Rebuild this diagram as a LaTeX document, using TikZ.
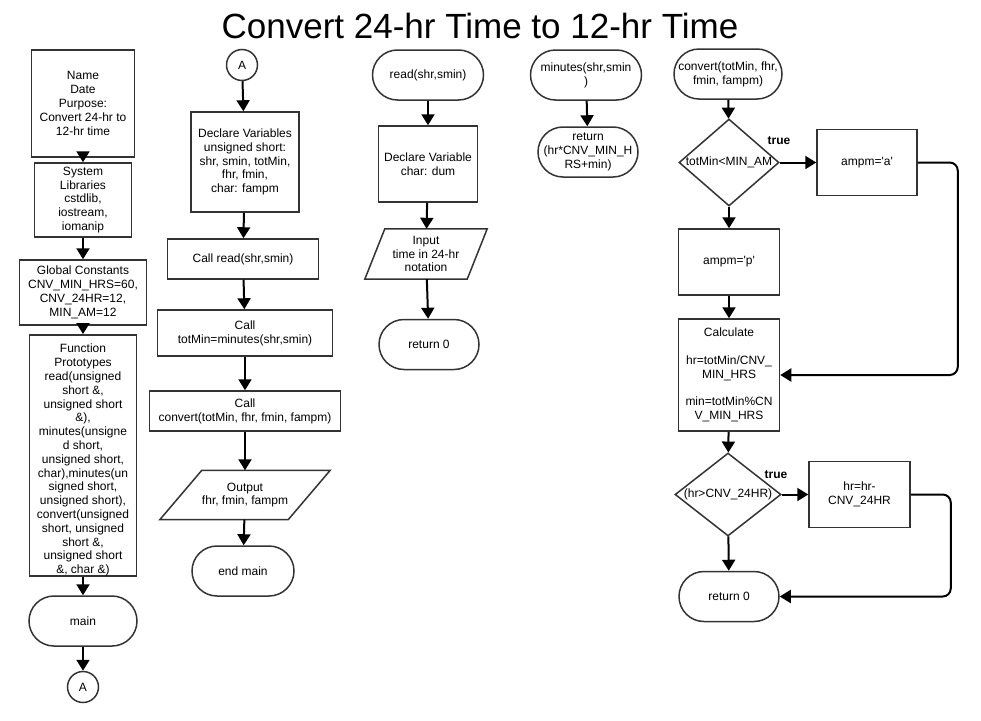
\documentclass[tikz,border=0pt]{standalone}
\usepackage{fontspec}
\setmainfont{Liberation Sans}
\usetikzlibrary{shapes.geometric, arrows.meta, positioning}

\begin{document}
\begin{tikzpicture}[x=1pt, y=-1pt,
  font=\fontsize{12}{13.8}\selectfont,
  every node/.style={align=center, inner sep=0pt},
  box/.style={draw=black!80, line width=1.5pt, fill=white},
  term/.style={draw=black!80, line width=1.5pt, fill=white, rounded corners=25pt, minimum height=50},
  dec/.style={draw=black!80, line width=1.5pt, fill=white, diamond, minimum width=100, minimum height=87},
  io/.style={draw=black!80, line width=1.5pt, line join=miter},
  conn/.style={draw=black!80, line width=1.5pt, circle, minimum size=31},
  arr/.style={-{Triangle[length=11pt, width=13pt]}, line width=2pt},
  truelbl/.style={font=\fontsize{12}{14}\selectfont\bfseries}
]
\useasboundingbox (0,0) rectangle (981,720);

\node (title) at (480,26) {\fontsize{35}{40}\selectfont Convert 24-hr Time to 12-hr Time};

\node[box, minimum width=103, minimum height=107] (name) at (83,103.5) {Name\\Date\\Purpose:\\Convert 24-hr to\\12-hr time};
\node[box, minimum width=97, minimum height=74] (syslib) at (83,200) {System\\Libraries\\cstdlib,\\iostream,\\iomanip};
\node[box, minimum width=127, minimum height=65] (consts) at (83,292.5) {Global Constants\\CNV\_MIN\_HRS=60,\\CNV\_24HR=12,\\MIN\_AM=12};
\node[box, minimum width=107, minimum height=231] (protos) at (83,455.5) {\vphantom{A}\\[-4pt]Function\\Prototypes\\read(unsigned\\short \&,\\unsigned short\\\&),\\minutes(unsigne\\d short,\\unsigned short,\\char),minutes(un\\signed short,\\unsigned short),\\convert(unsigned\\short, unsigned\\short \&,\\unsigned short\\\&, char \&)};
\node[term, minimum width=108] (mainst) at (83,621) {main};
\node[conn] (conA) at (83,687) {A};

\node[conn] (conA2) at (242,65) {A};
\node[box, minimum width=108, minimum height=100] (decl) at (245,162) {Declare Variables\\unsigned short:\\shr, smin, totMin,\\fhr, fmin,\\char: fampm};
\node[box, minimum width=151, minimum height=40] (callread) at (243,259) {Call read(shr,smin)};
\node[box, minimum width=175, minimum height=46] (callmin) at (245,333) {Call\\totMin=minutes(shr,smin)};
\node[box, minimum width=191, minimum height=40] (callconv) at (245,411) {Call\\convert(totMin, fhr, fmin, fampm)};
\node[minimum width=128, minimum height=49] (outp) at (245,495) {Output\\fhr, fmin, fampm};
\draw[io] ([xshift=-21pt]outp.south west) -- ([xshift=-21pt]outp.south east)
  -- ([xshift=21pt]outp.north east) -- ([xshift=21pt]outp.north west) -- cycle;
\node[term, minimum width=102] (endmain) at (243,571) {end main};

\node[term, minimum width=111] (readst) at (428,75) {read(shr,smin)};
\node[box, minimum width=99, minimum height=76] (decl2) at (428,164) {Declare Variable\\char: dum};
\node[minimum width=102, minimum height=50] (inp) at (426,254) {Input\\time in 24-hr\\notation};
\draw[io] ([xshift=-10pt]inp.south west) -- ([xshift=-10pt]inp.south east)
  -- ([xshift=10pt]inp.north east) -- ([xshift=10pt]inp.north west) -- cycle;
\node[term, minimum width=100] (ret1) at (429,344.5) {return 0};

\node[term, minimum width=111] (minst) at (586,75) {minutes(shr,smin\\)};
\node[term, minimum width=100] (ret2) at (588,152) {return\\(hr*CNV\_MIN\_H\\RS+min)};

\node[term, minimum width=108] (convst) at (728,74) {convert(totMin, fhr,\\fmin, fampm)};
\node[dec] (dec1) at (729,162.5) {\makebox[0pt]{totMin<MIN\_AM}};
\node[box, minimum width=100, minimum height=66] (ampma) at (867,162.5) {ampm=\textquotesingle a\textquotesingle};
\node[truelbl] (true1) at (779,141) {true};
\node[box, minimum width=101, minimum height=66] (ampmp) at (729,262) {ampm=\textquotesingle p\textquotesingle};
\node[box, minimum width=101, minimum height=112] (calc) at (729,375) {Calculate\\[13.8pt]hr=totMin/CNV\_\\MIN\_HRS\\[13.8pt]min=totMin\%CN\\V\_MIN\_HRS};
\node[dec, minimum width=106, minimum height=83] (dec2) at (728,494.5) {\makebox[0pt]{(hr>CNV\_24HR)}};
\node[box, minimum width=101, minimum height=66] (hrsub) at (859.5,494.5) {hr=hr-\\CNV\_24HR};
\node[truelbl] (true2) at (776,475) {true};
\node[term, minimum width=100] (ret3) at (729,596.5) {return 0};

\draw[arr] (name) -- (syslib);
\draw[arr] (syslib) -- (consts);
\draw[arr] (consts) -- (protos);
\draw[arr] (protos) -- (mainst);
\draw[arr] (mainst) -- (conA);

\draw[arr] (conA2) -- (decl);
\draw[arr] (decl) -- (callread);
\draw[arr] (callread) -- (callmin);
\draw[arr] (callmin) -- (callconv);
\draw[arr] (callconv) -- (outp);
\draw[arr] (outp) -- (endmain);

\draw[arr] (readst) -- (decl2);
\draw[arr] (decl2) -- (inp);
\draw[arr] (inp) -- (ret1);

\draw[arr] (minst) -- (ret2);

\draw[arr] (convst) -- (dec1);
\draw[arr] (dec1) -- (ampma);
\draw[arr] (dec1) -- (ampmp);
\draw[arr] (ampmp) -- (calc);
\draw[arr, rounded corners=8pt] (ampma.east) -- ++(40,0) |- (calc.east);
\draw[arr] (calc) -- (dec2);
\draw[arr] (dec2) -- (hrsub);
\draw[arr] (dec2) -- (ret3);
\draw[arr, rounded corners=8pt] (hrsub.east) -- ++(40,0) |- (ret3.east);
\end{tikzpicture}
\end{document}
